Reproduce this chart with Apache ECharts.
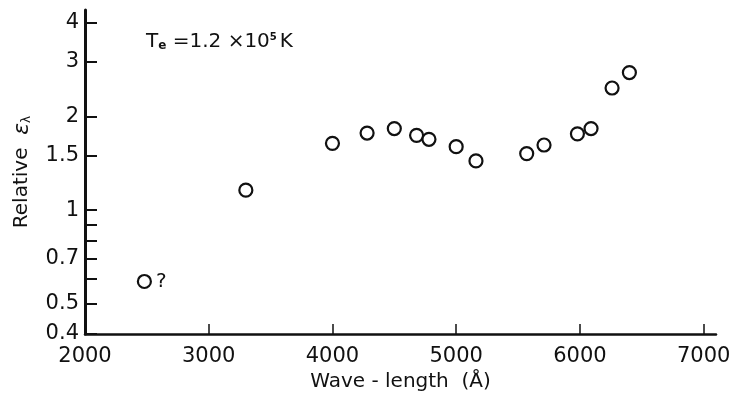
<!DOCTYPE html>
<html>
<head>
<meta charset="utf-8">
<script src="https://cdn.jsdelivr.net/npm/echarts@6/dist/echarts.min.js"></script>
<style>
  html, body { margin: 0; padding: 0; background: #fff; }
  #chart { width: 734px; height: 404px; }
</style>
</head>
<body>
<div id="chart"></div>
<script>
// Relative emissivity against wave-length, Te = 1.2e5 K
const wavelengths = [2480, 3300, 4000, 4280, 4500, 4680, 4780, 5000, 5160, 5570, 5710, 5980, 6090, 6260, 6400];
const emissivity  = [0.59, 1.16, 1.64, 1.77, 1.83, 1.74, 1.69, 1.60, 1.44, 1.52, 1.62, 1.76, 1.83, 2.47, 2.77];
const pointNotes  = ['?', '', '', '', '', '', '', '', '', '', '', '', '', '', ''];

const xTicks = [2000, 3000, 4000, 5000, 6000, 7000];
const yLabelTicks = [0.4, 0.5, 0.7, 1, 1.5, 2, 3, 4];
const yMinorTicks = [0.6, 0.8, 0.9];

const FONT = 'DejaVu Sans';
const INK = '#111';

const points = wavelengths.map((w, i) => ({
  value: [w, emissivity[i]],
  label: pointNotes[i] ? { show: true, formatter: pointNotes[i] } : { show: false }
}));

const chart = echarts.init(document.getElementById('chart'), null, { renderer: 'canvas' });

chart.setOption({
  animation: false,
  backgroundColor: '#fff',
  title: {
    left: 141,
    top: 27,
    text: '{t|T}{s|e}{t| =1.2 ×10}{p|5}{t|K}',
    textStyle: {
      fontWeight: 'normal',
      rich: {
        t: { fontFamily: FONT, fontSize: 20, fontWeight: 'normal', color: INK },
        s: { fontFamily: FONT, fontSize: 12, fontWeight: 'bold', color: INK, verticalAlign: 'bottom', padding: [7, 0, 0, 0] },
        p: { fontFamily: FONT, fontSize: 10, fontWeight: 'bold', color: INK, verticalAlign: 'top', padding: [0, 3, 10, 0] }
      }
    }
  },
  grid: { left: 85, right: 18, top: 10, bottom: 70 },
  xAxis: {
    type: 'value',
    min: 2000,
    max: 7100,
    name: 'Wave - length  (Å)',
    nameLocation: 'middle',
    nameGap: 38,
    nameTextStyle: { fontFamily: FONT, fontSize: 20, color: INK },
    axisLine: { show: true, lineStyle: { color: INK, width: 2.5 } },
    axisTick: { show: true, inside: true, length: 10, customValues: xTicks, lineStyle: { color: INK, width: 1.5 } },
    axisLabel: { customValues: xTicks, margin: 12, fontFamily: FONT, fontSize: 21, color: INK, formatter: v => String(v) },
    splitLine: { show: false }
  },
  yAxis: {
    type: 'log',
    min: 0.4,
    max: 4.4,
    name: '{n|Relative  }{e|ε}{l|λ}',
    nameLocation: 'middle',
    nameGap: 52,
    nameRotate: 90,
    nameTextStyle: {
      rich: {
        n: { fontFamily: FONT, fontSize: 20, color: INK },
        e: { fontFamily: FONT, fontSize: 22, fontStyle: 'italic', color: INK },
        l: { fontFamily: FONT, fontSize: 12, color: INK, verticalAlign: 'bottom', padding: [9, 0, 0, 0] }
      }
    },
    axisLine: { show: true, lineStyle: { color: INK, width: 3 } },
    axisTick: { show: true, inside: true, length: 12, customValues: yLabelTicks.concat(yMinorTicks), lineStyle: { color: INK, width: 2 } },
    axisLabel: { customValues: yLabelTicks, margin: 6, fontFamily: FONT, fontSize: 21, color: INK, formatter: v => String(+v.toPrecision(3)) },
    splitLine: { show: false }
  },
  series: [{
    type: 'scatter',
    data: points,
    symbol: 'circle',
    symbolSize: 13,
    itemStyle: { color: '#fff', borderColor: INK, borderWidth: 2.2, opacity: 1 },
    label: { position: 'right', distance: 4, fontFamily: FONT, fontSize: 20, color: INK }
  }]
});
</script>
</body>
</html>
